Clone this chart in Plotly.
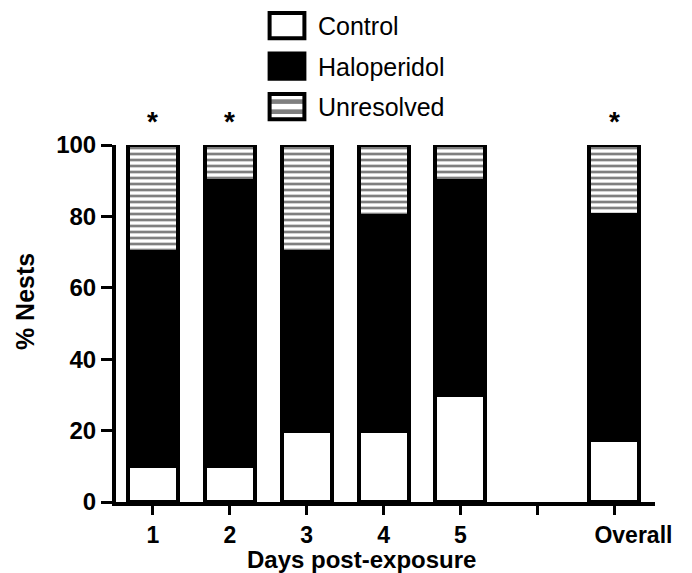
import plotly.graph_objects as go

categories = ["1", "2", "3", "4", "5", "", "\u00a0\u00a0\u00a0\u00a0\u00a0\u00a0Overall"]
bar_positions = [0, 1, 2, 3, 4, 6]
control = [10, 10, 20, 20, 30, 17.5]
haloperidol = [60, 80, 50, 60, 60, 63]
unresolved = [30, 10, 30, 20, 10, 19.5]
star_positions = [0, 1, 6]

font_family = "Liberation Sans, Arial, Helvetica, sans-serif"

fig = go.Figure()
line = dict(color="black", width=4)
bw = 0.65
fig.add_trace(go.Bar(x=bar_positions, y=control, name="Control", legendgroup="a",
                     marker=dict(color="white", line=line), width=bw))
fig.add_trace(go.Bar(x=bar_positions, y=haloperidol, name="Haloperidol", legendgroup="b",
                     marker=dict(color="black", line=line), width=bw))
fig.add_trace(go.Bar(x=bar_positions, y=unresolved, name="Unresolved", legendgroup="c",
                     marker=dict(color="white", line=line,
                                 pattern=dict(shape="-", fgcolor="black", bgcolor="white",
                                              size=6, solidity=0.45)), width=bw))

for p in star_positions:
    fig.add_annotation(x=p, y=100, yref="y", xref="x", text="<b>*</b>", showarrow=False,
                       yshift=24, font=dict(size=28, color="black", family=font_family))

# axis titles
fig.add_annotation(x=-91 / 539, y=0.56, xref="paper", yref="paper", text="<b>% Nests</b>",
                   textangle=-90, showarrow=False, xanchor="center", yanchor="middle",
                   font=dict(size=25, color="black", family=font_family))
fig.add_annotation(x=245 / 539, y=-0.162, xref="paper", yref="paper",
                   text="<b>Days post-exposure</b>", showarrow=False,
                   xanchor="center", yanchor="middle",
                   font=dict(size=24, color="black", family=font_family))

fig.update_layout(
    barmode="stack",
    width=692, height=573,
    margin=dict(l=116, r=37, t=145, b=71, autoexpand=False),
    plot_bgcolor="white", paper_bgcolor="white",
    font=dict(family=font_family, color="black"),
    showlegend=True,
    legend=dict(x=256 / 692, y=0.995, xref="container", yref="container",
                xanchor="left", yanchor="top", traceorder="grouped", itemwidth=52,
                font=dict(size=25, color="black"), tracegroupgap=5,
                bgcolor="rgba(0,0,0,0)"),
    xaxis=dict(range=[-0.48, 6.53], tickmode="array", tickvals=list(range(7)),
               ticktext=categories, showline=True, linecolor="black", linewidth=4,
               ticks="outside", ticklen=9, tickwidth=3, tickcolor="black",
               showgrid=False, zeroline=False, automargin=False,
               tickfont=dict(size=23, weight="bold")),
    yaxis=dict(range=[0, 100], tickvals=[0, 20, 40, 60, 80, 100], showline=True,
               linecolor="black", linewidth=4, ticks="outside", ticklen=11, tickwidth=3,
               tickcolor="black", showgrid=False, zeroline=False, automargin=False,
               tickfont=dict(size=24, weight="bold")),
)

post_script = """
document.body.style.margin = '0';
var gd = document.getElementById('{plot_id}');
gd.querySelectorAll('.legendpoints path').forEach(function (p) {
    var t = p.getAttribute('transform') || '';
    p.setAttribute('transform', t + ' scale(2.9,2.1)');
    p.style.vectorEffect = 'non-scaling-stroke';
    p.style.strokeWidth = '4px';
});
"""

fig.write_html("out.html", post_script=post_script, config={"displayModeBar": False})
